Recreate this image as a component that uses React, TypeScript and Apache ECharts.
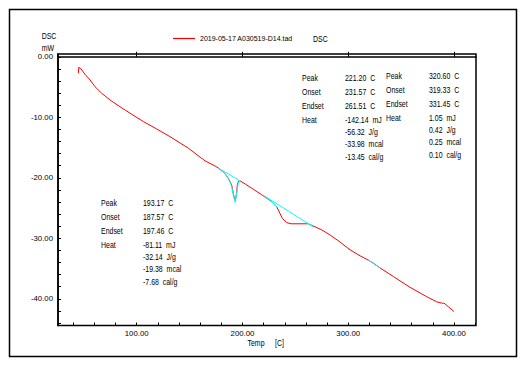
import React, { useEffect, useRef } from "react";
import * as echarts from "echarts";

// Main DSC trace (red)
const temps = [44.8, 45.3, 47.1, 51.1, 55.9, 60.6, 66.9, 74.8, 84.2, 95.3, 106.3, 118.9, 131.5, 148.8, 164.6, 174.1, 177.2, 183.5, 186.6, 188.2, 189.8, 191.4, 192.3, 193.0, 193.8, 194.6, 195.1, 196.1, 197.7, 202.4, 210.3, 218.2, 227.7, 232.4, 235.5, 237.7, 241.8, 245.9, 259.2, 262.3, 268.6, 274.9, 282.8, 292.2, 301.7, 311.2, 319.0, 323.7, 330.1, 342.6, 358.4, 374.2, 383.7, 389.3, 390.5, 394.6, 400.0];
const dsc = [-2.73, -1.74, -1.95, -2.89, -3.83, -4.94, -6.03, -7.14, -8.25, -9.5, -10.7, -11.93, -13.2, -15.1, -17.2, -18.05, -18.4, -19.3, -20.1, -20.6, -21.2, -22.6, -23.4, -23.7, -23.3, -22.3, -21.2, -20.6, -20.5, -21.0, -21.9, -22.8, -23.95, -24.8, -25.9, -26.7, -27.4, -27.6, -27.6, -27.6, -28.1, -28.6, -29.45, -30.6, -31.9, -32.9, -33.6, -34.1, -34.9, -36.3, -38.1, -39.65, -40.5, -40.75, -40.7, -41.3, -42.1];

// Analysis overlays (cyan)
const peak1BaseT = [177.2, 197.7];
const peak1BaseD = [-18.4, -20.5];
const peak1TraceT = [179.0, 183.5, 186.6, 189.6, 191.6, 193.1, 194.6, 196.0, 197.7];
const peak1TraceD = [-18.6, -19.3, -20.1, -21.3, -23.0, -24.1, -22.5, -20.9, -20.5];
const peak2BaseT = [220.7, 267.0];
const peak2BaseD = [-23.0, -28.1];
const peak2TraceT = [220.7, 227.7, 232.4];
const peak2TraceD = [-23.0, -23.95, -24.8];
const peak2EndT = [261.0, 267.0];
const peak2EndD = [-27.5, -28.1];
const peak3T = [319.0, 330.1];
const peak3D = [-33.6, -34.9];

// Axis ticks / labels
const xLabelValues = [100, 200, 300, 400];
const xMinorTicks = [40, 60, 80, 100, 120, 140, 160, 180, 200, 220, 240, 260, 280, 300, 320, 340, 360, 380, 400, 420];
const yLabelValues = [0, -10, -20, -30, -40];
const yTicks = [0, -2, -4, -6, -8, -10, -12, -14, -16, -18, -20, -22, -24, -26, -28, -30, -32, -34, -36, -38, -40, -42, -44];

// Texts
const legendName = "2019-05-17 A030519-D14.tad";
const legendSuffix = "DSC";
const yName = ["DSC", "mW"];
const xName = ["Temp", "[C]"];
const rowLabels = ["Peak", "Onset", "Endset", "Heat"];
const blockAValues = ["193.17  C", "187.57  C", "197.46  C", "-81.11  mJ", "-32.14  J/g", "-19.38  mcal", "-7.68  cal/g"];
const blockBValues = ["221.20  C", "231.57  C", "261.51  C", "-142.14  mJ", "-56.32  J/g", "-33.98  mcal", "-13.45  cal/g"];
const blockCValues = ["320.60  C", "319.33  C", "331.45  C", "1.05  mJ", "0.42  J/g", "0.25  mcal", "0.10  cal/g"];

const FONT = '"Liberation Sans", Arial, sans-serif';
const FS = 8.5;
const SX = 0.82;

const zip = (a: number[], b: number[]) => a.map((v, i) => [v, b[i]]);

function txt(text: string, x: number, y: number, align: string = "left") {
  return {
    type: "text",
    x,
    y,
    scaleX: SX,
    silent: true,
    style: {
      text,
      fill: "#000",
      fontSize: FS,
      fontFamily: FONT,
      textAlign: align,
      textVerticalAlign: "middle",
      align,
      verticalAlign: "middle",
    },
  };
}

const rowOffsets = [0, 14, 28, 42, 54, 66, 78.5];

function block(labelX: number, valueX: number, y0: number, values: string[]) {
  const out: any[] = [];
  rowLabels.forEach((l, i) => out.push(txt(l, labelX, y0 + rowOffsets[i])));
  values.forEach((v, i) => out.push(txt(v, valueX, y0 + rowOffsets[i])));
  return out;
}

export default function App() {
  const ref = useRef<HTMLDivElement>(null);
  useEffect(() => {
    if (!ref.current) return;
    const chart = echarts.init(ref.current, null, { renderer: "svg" });
    const xMin = 25.6, xMax = 420.8, yMin = -44.41, yMax = 0.46;
    const cyanStyle = { color: "#00ffff", width: 1 };
    const cyanSeries = (data: number[][]) => ({
      type: "line",
      data,
      symbol: "none",
      lineStyle: cyanStyle,
      itemStyle: { color: "#00ffff" },
      z: 3,
      silent: true,
    });
    chart.setOption({
      animation: false,
      backgroundColor: "#fff",
      textStyle: { fontFamily: FONT, fontSize: FS, color: "#000" },
      legend: {
        data: [{ name: legendName, icon: "rect" }],
        left: 173,
        top: 35,
        padding: 0,
        itemWidth: 22,
        itemHeight: 1.2,
        textStyle: { fontFamily: FONT, fontSize: 7, color: "#000" },
        selectedMode: false,
      },
      grid: {
        left: 58,
        top: 54,
        right: 49,
        bottom: 39.5,
        show: true,
        borderColor: "#000",
        borderWidth: 1.5,
        containLabel: false,
      },
      xAxis: [
        {
          type: "value",
          min: xMin,
          max: xMax,
          position: "bottom",
          axisLine: { show: true, lineStyle: { color: "#000", width: 1.5 } },
          axisTick: { show: true, inside: true, length: 5, customValues: xLabelValues, lineStyle: { color: "#000" } },
          axisLabel: {
            show: true,
            customValues: xLabelValues,
            formatter: (v: number) => v.toFixed(2),
            color: "#000",
            fontFamily: FONT,
            fontSize: 7.8,
            margin: 4,
          },
          splitLine: { show: false },
        },
        {
          type: "value",
          min: xMin,
          max: xMax,
          position: "bottom",
          offset: 0,
          axisLine: { show: false },
          axisTick: { show: true, inside: true, length: 3, customValues: xMinorTicks, lineStyle: { color: "#000" } },
          axisLabel: { show: false },
          splitLine: { show: false },
        },
      ],
      yAxis: {
        type: "value",
        min: yMin,
        max: yMax,
        axisLine: { show: true, lineStyle: { color: "#000", width: 1.5 } },
        axisTick: { show: true, inside: true, length: 3, customValues: yTicks, lineStyle: { color: "#000" } },
        axisLabel: {
          show: true,
          customValues: yLabelValues,
          formatter: (v: number) => v.toFixed(2),
          color: "#000",
          fontFamily: FONT,
          fontSize: 7.8,
          margin: 5,
        },
        splitLine: { show: false },
      },
      series: [
        {
          name: legendName,
          type: "line",
          data: zip(temps, dsc),
          symbol: "none",
          lineStyle: { color: "#ff0000", width: 1 },
          itemStyle: { color: "#ff0000" },
          z: 2,
          silent: true,
        },
        cyanSeries(zip(peak1BaseT, peak1BaseD)),
        cyanSeries(zip(peak1TraceT, peak1TraceD)),
        cyanSeries(zip(peak2BaseT, peak2BaseD)),
        cyanSeries(zip(peak2TraceT, peak2TraceD)),
        cyanSeries(zip(peak2EndT, peak2EndD)),
        cyanSeries(zip(peak3T, peak3D)),
      ],
      graphic: [
        {
          type: "rect",
          shape: { x: 9.5, y: 9.5, width: 507, height: 347 },
          style: { fill: "none", stroke: "#000", lineWidth: 1.5 },
          silent: true,
          z: -1,
        },
        txt(legendSuffix, 313, 39.3),
        txt(yName[0], 49, 36.7, "center"),
        txt(yName[1], 48, 48, "center"),
        txt(xName[0], 247.5, 343.3),
        txt(xName[1], 275, 343.3),
        ...block(101, 143, 203.7, blockAValues),
        ...block(302, 345, 78.5, blockBValues),
        ...block(386, 429, 76.5, blockCValues),
      ],
    });
    return () => chart.dispose();
  }, []);
  return (
    <div
      ref={ref}
      style={{ position: "fixed", left: 0, top: 0, width: 525, height: 365, background: "#fff" }}
    />
  );
}
